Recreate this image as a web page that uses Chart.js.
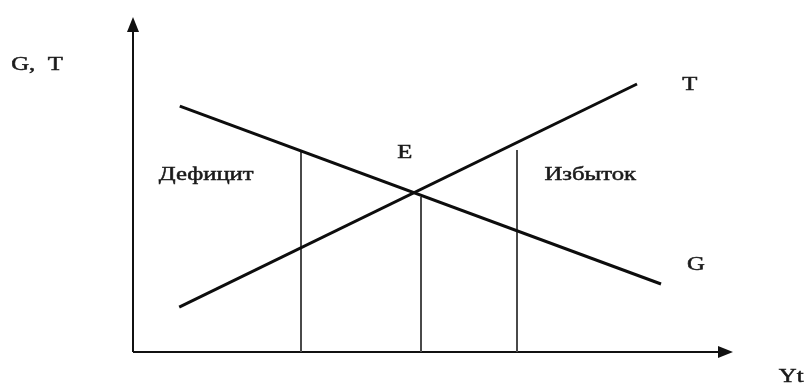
<!DOCTYPE html>
<html>
<head>
<meta charset="utf-8">
<script src="https://cdn.jsdelivr.net/npm/chart.js@4.4.1/dist/chart.umd.min.js"></script>
<style>
  html, body { margin: 0; padding: 0; background: #ffffff; }
  canvas { display: block; }
</style>
</head>
<body>
<canvas id="c" width="811" height="389"></canvas>
<script>
// ---- data (axis units) ----
const curveNames = ['G', 'T'];
const gValues = [{x: 0.78, y: 7.34}, {x: 8.8, y: 2.03}];   // spending, falling
const tValues = [{x: 0.77, y: 1.34}, {x: 8.4, y: 8.0}];    // taxes, rising
const markerX = [2.8, 4.8, 6.4];                            // vertical guides
const markerTop = [6.0, 4.63, 6.03];
const axisTitles = ['G,  T', 'Yt'];
const regionLabels = ['Дефицит', 'E', 'Избыток'];

// ---- annotation placement (axis units) ----
const textItems = [
  {text: axisTitles[0], x: -1.6, y: 8.6},
  {text: axisTitles[1], x: 10.97, y: -0.72},
  {text: curveNames[1], x: 9.28, y: 8.0},
  {text: curveNames[0], x: 9.38, y: 2.63},
  {text: regionLabels[0], x: 1.22, y: 5.31},
  {text: regionLabels[1], x: 4.53, y: 5.97},
  {text: regionLabels[2], x: 7.62, y: 5.31}
];

const datasets = [
  {label: curveNames[0], data: gValues, borderColor: '#0d0d0d', borderWidth: 3, showLine: true, pointRadius: 0, order: 1},
  {label: curveNames[1], data: tValues, borderColor: '#0d0d0d', borderWidth: 3, showLine: true, pointRadius: 0, order: 1}
];
markerX.forEach((mx, i) => {
  datasets.push({
    label: 'guide' + i,
    data: [{x: mx, y: 0}, {x: mx, y: markerTop[i]}],
    borderColor: '#4a4a4a', borderWidth: 2, showLine: true, pointRadius: 0, order: 2
  });
});

const axesPlugin = {
  id: 'axesArrows',
  beforeDatasetsDraw(chart) {
    const ctx = chart.ctx;
    const xs = chart.scales.x, ys = chart.scales.y;
    const x0 = xs.getPixelForValue(0), y0 = ys.getPixelForValue(0);
    const xEnd = xs.getPixelForValue(xs.max), yEnd = ys.getPixelForValue(ys.max);
    ctx.save();
    ctx.strokeStyle = '#111';
    ctx.fillStyle = '#111';
    ctx.lineWidth = 2;
    ctx.beginPath();
    ctx.moveTo(x0, y0); ctx.lineTo(x0, yEnd + 10);
    ctx.moveTo(x0, y0); ctx.lineTo(xEnd - 10, y0);
    ctx.stroke();
    // arrow heads
    ctx.beginPath();
    ctx.moveTo(x0, yEnd); ctx.lineTo(x0 - 6, yEnd + 15); ctx.lineTo(x0 + 6, yEnd + 15); ctx.closePath();
    ctx.fill();
    ctx.beginPath();
    ctx.moveTo(xEnd, y0); ctx.lineTo(xEnd - 15, y0 - 6); ctx.lineTo(xEnd - 15, y0 + 6); ctx.closePath();
    ctx.fill();
    ctx.restore();
  },
  afterDatasetsDraw(chart) {
    const ctx = chart.ctx;
    const xs = chart.scales.x, ys = chart.scales.y;
    ctx.save();
    ctx.fillStyle = '#1a1a1a';
    ctx.strokeStyle = '#1a1a1a';
    ctx.lineWidth = 0.5;
    ctx.font = '19px "Liberation Serif", "Times New Roman", serif';
    ctx.textAlign = 'center';
    ctx.textBaseline = 'middle';
    textItems.forEach(t => {
      const px = xs.getPixelForValue(t.x), py = ys.getPixelForValue(t.y);
      ctx.save();
      ctx.translate(px, py);
      ctx.scale(1.3, 1);
      ctx.fillText(t.text, 0, 1);
      ctx.strokeText(t.text, 0, 1);
      ctx.restore();
    });
    ctx.restore();
  }
};

new Chart(document.getElementById('c'), {
  type: 'scatter',
  data: {datasets},
  options: {
    responsive: false,
    animation: false,
    layout: {padding: {left: 133, right: 78, top: 17, bottom: 37}},
    plugins: {legend: {display: false}, tooltip: {enabled: false}},
    scales: {
      x: {type: 'linear', min: 0, max: 10, display: false},
      y: {type: 'linear', min: 0, max: 10, display: false}
    },
    elements: {line: {tension: 0, borderCapStyle: 'butt'}}
  },
  plugins: [axesPlugin]
});
</script>
</body>
</html>
